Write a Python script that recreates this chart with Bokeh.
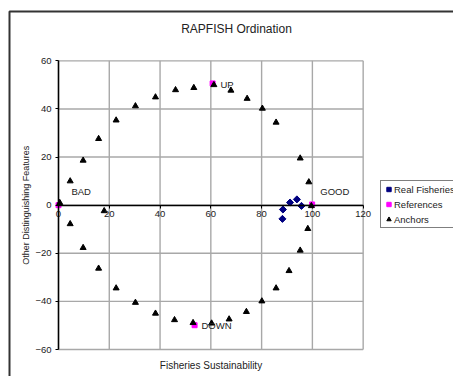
import math
from bokeh.plotting import figure
from bokeh.models import (Range1d, LinearAxis, FixedTicker, Legend, LegendItem,
                          BoxAnnotation, Label)
from bokeh.core.properties import value
from bokeh.embed import file_html
from bokeh.resources import INLINE

title_text = "RAPFISH Ordination"
x_title = "Fisheries Sustainability"
y_title = "Other Distinguishing Features"
x_ticks = [0, 20, 40, 60, 80, 100, 120]
y_ticks = [-60, -40, -20, 0, 20, 40, 60]

anchor_x = [0.5, 4.6, 9.7, 15.8, 22.7, 30.3, 38.2, 46.1, 53.3, 61.2, 67.9, 74.3, 80.3, 85.7,
            95.2, 98.6, 99.6, 98.2, 95.2, 90.8, 85.7, 80.1, 74.0, 67.2, 60.3, 53.0, 45.7,
            38.2, 30.3, 22.7, 15.8, 9.7, 4.6, 18.0]
anchor_y = [1.0, 10.0, 18.6, 27.6, 35.3, 41.2, 44.9, 47.9, 48.8, 50.0, 47.7, 44.3, 40.2, 34.4,
            19.5, 9.6, -0.3, -9.8, -18.8, -27.3, -34.5, -39.9, -44.3, -47.4, -49.1, -48.9,
            -47.7, -45.0, -40.5, -34.5, -26.3, -17.7, -7.8, -2.4]

ref_x = [0.0, 60.7, 99.9, 53.6]
ref_y = [0.0, 50.6, 0.3, -49.9]

fish_x = [88.4, 88.2, 91.2, 93.9, 95.7]
fish_y = [-1.8, -5.7, 1.1, 2.4, -0.3]

label_text = ["BAD", "GOOD", "UP", "DOWN"]
label_x = [5.1, 103.1, 63.8, 56.3]
label_y = [5.5, 5.5, 50.3, -50.0]

FONT = "Liberation Sans"
TXT = "#222222"
W, H = 453, 376

# plot area spans x 0..120 and y -60..60; the view extends to the chart-area edges
p = figure(width=W, height=H, output_backend="svg", toolbar_location=None, title=None,
           x_range=Range1d(-22.845, 155.58), y_range=Range1d(-71.22, 85.08),
           min_border=0, x_axis_location=None, y_axis_location=None)
p.background_fill_color = "white"
p.border_fill_color = "white"
p.outline_line_color = None
p.xgrid.visible = False
p.ygrid.visible = False

# gridlines (they also form the grey plot-area box)
xmin, xmax = min(x_ticks), max(x_ticks)
ymin, ymax = min(y_ticks), max(y_ticks)
p.segment(x0=x_ticks, y0=[ymin] * len(x_ticks), x1=x_ticks, y1=[ymax] * len(x_ticks),
          line_color="#a8a8a8", line_width=1.4)
p.segment(x0=[xmin] * len(y_ticks), y0=y_ticks, x1=[xmax] * len(y_ticks), y1=y_ticks,
          line_color="#a8a8a8", line_width=1.4)

# axes crossing at the origin
yax = LinearAxis(ticker=FixedTicker(ticks=y_ticks), fixed_location=0, bounds=(ymin, ymax))
xax = LinearAxis(ticker=FixedTicker(ticks=x_ticks), fixed_location=0, bounds=(xmin, xmax))
for ax in (yax, xax):
    ax.major_label_text_font = FONT
    ax.major_label_text_font_size = "9.5px"
    ax.major_label_text_color = TXT
    ax.major_tick_in = 0
    ax.major_tick_out = 3
    ax.minor_tick_out = 0
    ax.minor_tick_in = 0
    ax.axis_line_color = "black"
    ax.axis_line_width = 1.5
    ax.major_tick_line_color = "black"
yax.major_label_standoff = 4
xax.major_label_standoff = 3
p.add_layout(yax, "left")
p.add_layout(xax, "below")

# data
r_fish = p.scatter(fish_x, fish_y, marker="square", angle=math.pi / 4, size=5,
                   fill_color="#000080", line_color="#000080")
r_ref = p.scatter(ref_x, ref_y, marker="square", size=5, fill_color="#ff00ff",
                  line_color="#ff00ff")
r_anc = p.scatter(anchor_x, anchor_y, marker="triangle", size=6, fill_color="black",
                  line_color="black")

p.text(x=label_x, y=label_y, text=label_text, text_font=value(FONT),
       text_font_size="9.5px", text_color=TXT, text_align="left", text_baseline="middle")

# titles
p.add_layout(Label(x=236, y=H - 28, x_units="screen", y_units="screen", text=title_text,
                   text_font=FONT, text_font_size="12px", text_color=TXT,
                   text_align="center", text_baseline="middle"))
p.add_layout(Label(x=210.5, y=H - 365, x_units="screen", y_units="screen", text=x_title,
                   text_font=FONT, text_font_size="10px", text_color=TXT,
                   text_align="center", text_baseline="middle"))
p.add_layout(Label(x=25, y=H - 204.7, x_units="screen", y_units="screen", text=y_title,
                   angle=90, angle_units="deg",
                   text_font=FONT, text_font_size="9px", text_color=TXT,
                   text_align="center", text_baseline="middle"))

legend = Legend(items=[LegendItem(label="Real Fisheries", renderers=[r_fish]),
                       LegendItem(label="References", renderers=[r_ref]),
                       LegendItem(label="Anchors", renderers=[r_anc])],
                location=(380, 148))
legend.label_text_font = FONT
legend.label_text_font_size = "9.5px"
legend.label_text_color = TXT
legend.label_height = 12
legend.glyph_height = 12
legend.glyph_width = 11
legend.label_standoff = 0
legend.spacing = 3
legend.padding = 2
legend.margin = 0
legend.border_line_color = "black"
legend.border_line_width = 1
legend.background_fill_alpha = 1
p.add_layout(legend, "center")

# outer chart-area border
try:
    border = BoxAnnotation(left=9, right=480, top=11, bottom=400,
                           left_units="canvas", right_units="canvas",
                           top_units="canvas", bottom_units="canvas",
                           fill_alpha=0, line_color="#333333", line_alpha=1, line_width=2)
except Exception:
    border = BoxAnnotation(left=9, right=480, top=H - 11, bottom=-20,
                           left_units="screen", right_units="screen",
                           top_units="screen", bottom_units="screen",
                           fill_alpha=0, line_color="#333333", line_alpha=1, line_width=2)
p.add_layout(border)

open("out.html", "w").write(file_html(p, INLINE))
